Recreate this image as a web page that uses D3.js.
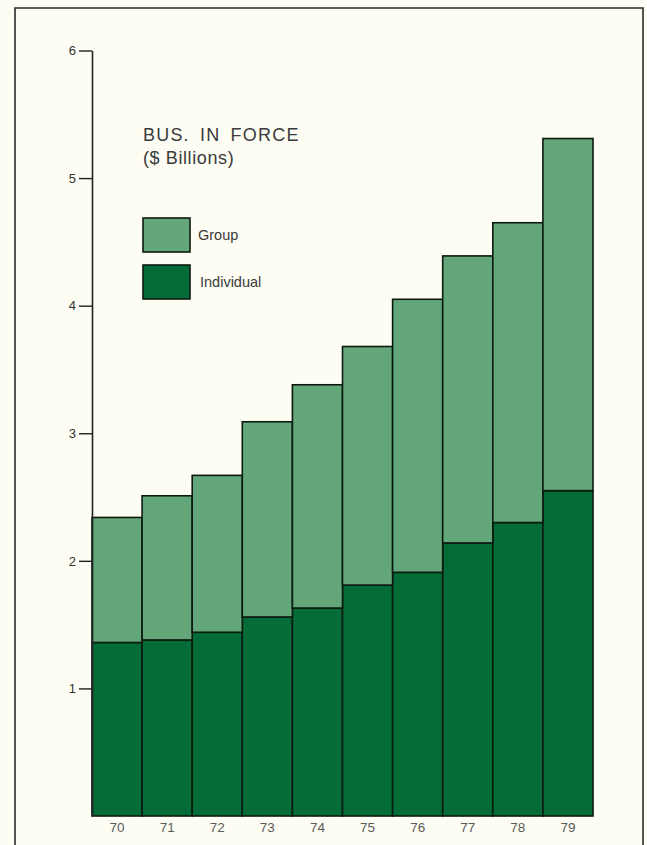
<!DOCTYPE html>
<html>
<head>
<meta charset="utf-8">
<script src="https://cdn.jsdelivr.net/npm/d3@7"></script>
<style>
  html, body { margin: 0; padding: 0; background: #fdfdf4; }
  svg { display: block; }
</style>
</head>
<body>
<svg id="chart" width="647" height="845"></svg>
<script>
// ---- data ($ billions) ----
const years = ["70", "71", "72", "73", "74", "75", "76", "77", "78", "79"];
const individual = [1.36, 1.38, 1.44, 1.56, 1.63, 1.81, 1.91, 2.14, 2.30, 2.55];
const group      = [0.98, 1.13, 1.23, 1.53, 1.75, 1.87, 2.14, 2.25, 2.35, 2.76];
const yTicks = [1, 2, 3, 4, 5, 6];
const seriesKeys = ["Individual", "Group"];
const legendKeys = ["Group", "Individual"];
const titleLines = ["BUS. IN FORCE", "($ Billions)"];

// ---- layout ----
const W = 647, H = 845;
const FONT = "Liberation Sans, Arial, sans-serif";
const colors = { Individual: "#046c36", Group: "#62a67a" };
const svg = d3.select("#chart");

// background + frame
svg.append("rect").attr("width", W).attr("height", H).attr("fill", "#fdfdf4");
svg.append("path")
  .attr("d", `M15,${H} L15,8 L643,8 L643,${H}`)
  .attr("fill", "none").attr("stroke", "#2b2b2b").attr("stroke-width", 1.6);

const x = d3.scaleBand().domain(years).range([92, 593]).padding(0);
const y = d3.scaleLinear().domain([0, 6]).range([816, 50.5]);

const table = years.map((yr, i) => ({ year: yr, Individual: individual[i], Group: group[i] }));
const stacked = d3.stack().keys(seriesKeys)(table);

// bars
svg.append("g").selectAll("g")
  .data(stacked)
  .join("g")
  .attr("fill", d => colors[d.key])
  .selectAll("rect")
  .data(d => d)
  .join("rect")
  .attr("x", d => x(d.data.year))
  .attr("y", d => y(d[1]))
  .attr("width", x.bandwidth())
  .attr("height", d => y(d[0]) - y(d[1]))
  .attr("stroke", "#0d1a10")
  .attr("stroke-width", 1.6);

// y axis
const yAxis = svg.append("g")
  .attr("transform", "translate(92,0)")
  .call(d3.axisLeft(y).tickValues(yTicks).tickSize(13).tickSizeOuter(0).tickPadding(3).tickFormat(d3.format("d")));
yAxis.select(".domain").attr("stroke", "#222").attr("stroke-width", 1.6);
yAxis.selectAll(".tick line").attr("stroke", "#222").attr("stroke-width", 1.4);
yAxis.selectAll("text").attr("fill", "#333").attr("font-family", FONT).attr("font-size", 13);

// x axis labels
const xAxis = svg.append("g")
  .attr("transform", "translate(0,816)")
  .call(d3.axisBottom(x).tickSize(0).tickPadding(6));
xAxis.select(".domain").remove();
xAxis.selectAll("text").attr("fill", "#5a5a5a").attr("font-family", FONT).attr("font-size", 13.5);

// title
svg.append("g").selectAll("text")
  .data(titleLines)
  .join("text")
  .attr("x", 143)
  .attr("y", (d, i) => 141 + i * 23)
  .attr("fill", "#3a3a3a")
  .attr("font-family", FONT)
  .attr("font-size", 18)
  .attr("letter-spacing", (d, i) => i === 0 ? 1.2 : 0.6)
  .attr("word-spacing", (d, i) => i === 0 ? 4 : 0)
  .text(d => d);

// legend
const legend = svg.append("g").selectAll("g")
  .data(legendKeys)
  .join("g")
  .attr("transform", (d, i) => `translate(143,${218 + i * 47})`);
legend.append("rect")
  .attr("width", 47).attr("height", 34)
  .attr("fill", d => colors[d])
  .attr("stroke", "#0d1a10").attr("stroke-width", 1.6);
legend.append("text")
  .attr("x", (d, i) => i === 0 ? 55 : 57).attr("y", 21.5)
  .attr("fill", "#3a3a3a")
  .attr("font-family", FONT)
  .attr("font-size", 14.5)
  .text(d => d);
</script>
</body>
</html>
